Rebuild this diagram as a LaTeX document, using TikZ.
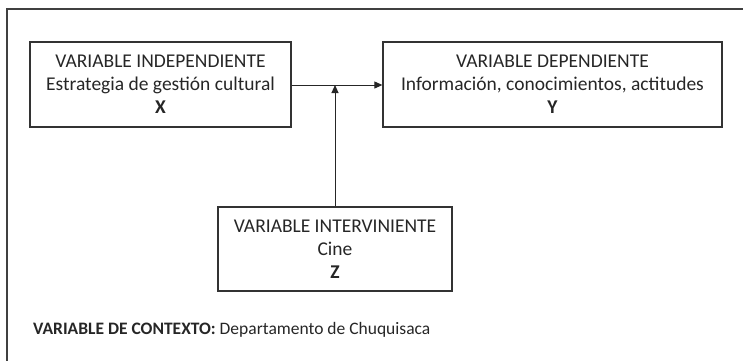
\documentclass[tikz,border=0pt]{standalone}
\usepackage{fontspec}
\setmainfont{Carlito}
\usetikzlibrary{arrows.meta}
\begin{document}
\begin{tikzpicture}[x=1pt,y=-1pt,
  varbox/.style={draw=black!80,line width=1.3pt,inner sep=0pt,align=center,
    font=\fontsize{19.5}{23}\selectfont,text=black!85},
  conn/.style={line width=1pt,draw=black!85,-{Triangle[length=8pt,width=7pt]}}]
\useasboundingbox (0,0) rectangle (743,360);
\draw[line width=1.3pt,draw=black!75] (7,365) -- (7,9) -- (750,9);
\node[varbox,minimum width=261pt,minimum height=85pt] (x) at (160.5,84.5)
  {VARIABLE INDEPENDIENTE\\Estrategia de gestión cultural\\\textbf{X}};
\node[varbox,minimum width=339pt,minimum height=85pt] (y) at (552.5,84.5)
  {VARIABLE DEPENDIENTE\\Información, conocimientos, actitudes\\\textbf{Y}};
\node[varbox,minimum width=234pt,minimum height=84pt] (z) at (335,249)
  {VARIABLE INTERVINIENTE\\Cine\\\textbf{Z}};
\coordinate (j) at (335,85);
\draw[conn] (x.east |- 0,85) -- (y.west |- 0,85);
\draw[conn] (z.north) -- (j);
\node[anchor=west,inner sep=0pt,font=\fontsize{17.5}{20}\selectfont,text=black!85] (ctx) at (33,330)
  {\textbf{VARIABLE DE CONTEXTO:} Departamento de Chuquisaca};
\end{tikzpicture}
\end{document}
